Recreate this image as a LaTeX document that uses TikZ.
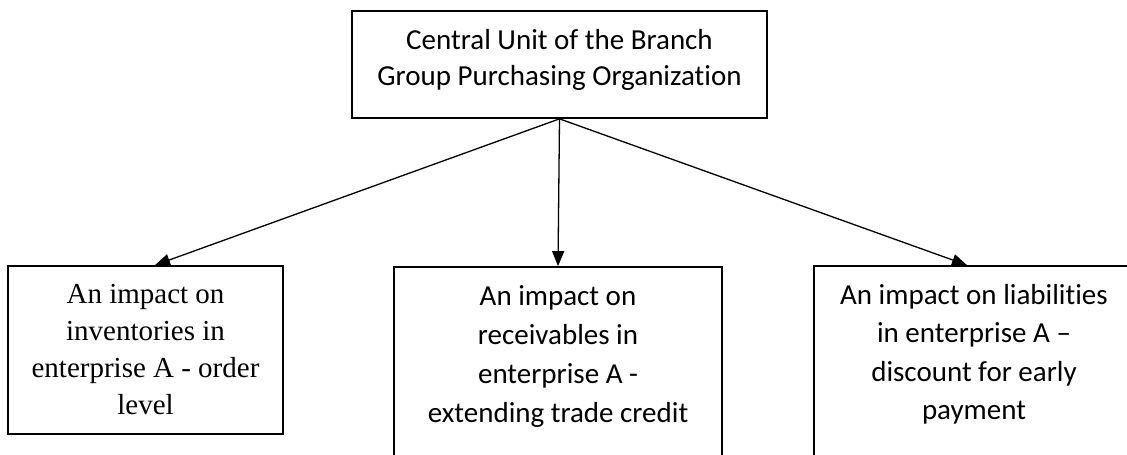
\documentclass[tikz,border=0pt]{standalone}
\usepackage{fontspec}
\setmainfont{Carlito}[Ligatures={NoCommon}]
\newfontfamily\timesfont{Liberation Serif}
\usepackage{tikz}
\usetikzlibrary{arrows.meta}

\begin{document}
\begin{tikzpicture}[x=1pt,y=1pt,
  box/.style={draw,line width=1.7pt,inner sep=0pt},
  txt/.style={anchor=north,align=center,inner sep=0pt,yshift=-19pt},
  link/.style={line width=1.3pt,-{Triangle[length=15pt,width=12pt]}}]

\useasboundingbox (0,0) rectangle (1127,-455);
\clip (0,0) rectangle (1127,-455);

% boxes
\node[box,minimum width=415,minimum height=107] (unit) at (559.5,-64.5) {};
\node[box,minimum width=275,minimum height=168] (inv) at (145.5,-350) {};
\node[box,minimum width=328,minimum height=210] (rec) at (558,-372) {};
\node[box,minimum width=320,minimum height=210] (lia) at (974,-371) {};

% texts
\node[txt,font=\fontsize{29}{36}\selectfont] (unittxt) at (unit.north)
  {Central Unit of the Branch\\Group Purchasing Organization};
\node[txt,font=\timesfont\fontsize{29}{37}\selectfont] (invtxt) at (inv.north)
  {An impact on\\inventories in\\enterprise A - order\\level};
\node[txt,font=\fontsize{29}{39}\selectfont] (rectxt) at (rec.north)
  {An impact on\\receivables in\\enterprise A -\\extending trade credit};
\node[txt,font=\fontsize{29}{38.5}\selectfont] (liatxt) at (lia.north)
  {An impact on liabilities\\in enterprise A --\\discount for early\\payment};

\draw[link] (unit.south) -- ([xshift=9.5pt]inv.north);
\draw[link] (unit.south) -- (rec.north);
\draw[link] (unit.south) -- ([xshift=-7pt]lia.north);

\end{tikzpicture}
\end{document}
